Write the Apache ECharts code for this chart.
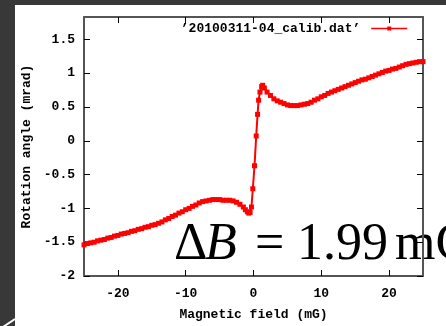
<!DOCTYPE html>
<html>
<head>
<meta charset="utf-8">
<script src="https://cdn.jsdelivr.net/npm/echarts@6/dist/echarts.min.js"></script>
<style>
html,body{margin:0;padding:0;background:#fff;}
#c{width:446px;height:326px;}
</style>
</head>
<body>
<div id="c"></div>
<script>
var seriesName = '\u201920100311-04_calib.dat\u2019';
var xTicks = [-20, -10, 0, 10, 20];
var yTicks = [-2, -1.5, -1, -0.5, 0, 0.5, 1, 1.5];
var field = [
 -25,-24.5,-24,-23.5,-23,-22.5,-22,-21.5,-21,-20.5,
 -20,-19.5,-19,-18.5,-18,-17.5,-17,-16.5,-16,-15.5,
 -15,-14.5,-14,-13.5,-13,-12.5,-12,-11.5,-11,-10.5,
 -10,-9.5,-9,-8.5,-8,-7.5,-7,-6.5,-6,-5.5,
 -5,-4.5,-4,-3.5,-3,-2.5,-2,-1.5,-1.2,-0.9,
 -0.7,-0.5,-0.3,-0.1,0.15,0.4,0.6,0.75,0.95,1.2,
 1.35,1.6,2,2.5,3,3.5,4,4.5,5,5.5,
 6,6.5,7,7.5,8,8.5,9,9.5,10,10.5,
 11,11.5,12,12.5,13,13.5,14,14.5,15,15.5,
 16,16.5,17,17.5,18,18.5,19,19.5,20,20.5,
 21,21.5,22,22.5,23,23.5,24,24.5,25
];
var angle = [
 -1.54,-1.52,-1.51,-1.50,-1.48,-1.47,-1.46,-1.44,-1.43,-1.41,
 -1.40,-1.38,-1.37,-1.36,-1.34,-1.33,-1.31,-1.30,-1.28,-1.27,
 -1.25,-1.24,-1.22,-1.20,-1.17,-1.15,-1.12,-1.10,-1.07,-1.05,
 -1.02,-1.00,-0.97,-0.95,-0.92,-0.90,-0.89,-0.88,-0.87,-0.87,
 -0.87,-0.88,-0.88,-0.88,-0.89,-0.91,-0.94,-0.98,-1.02,-1.05,
 -1.07,-1.06,-0.98,-0.71,-0.37,0.07,0.39,0.60,0.72,0.80,
 0.82,0.78,0.72,0.67,0.62,0.59,0.57,0.55,0.53,0.52,
 0.52,0.52,0.53,0.54,0.55,0.57,0.60,0.62,0.65,0.67,
 0.70,0.72,0.74,0.76,0.78,0.80,0.82,0.84,0.86,0.88,
 0.90,0.91,0.93,0.95,0.97,0.99,1.01,1.03,1.04,1.06,
 1.07,1.09,1.11,1.13,1.14,1.15,1.16,1.17,1.17
];
var annotation = ['\u0394', 'B', '=', '1.99', 'mG'];

var data = field.map(function (x, i) { return [x, angle[i]]; });
var monoFont = 'Liberation Mono';
var frame = {show: true, onZero: false, lineStyle: {color: '#555', width: 2}};
var tick = {show: true, inside: true, length: 6, lineStyle: {color: '#000', width: 1}};
var serifFont = '52px "Liberation Serif"';

var chart = echarts.init(document.getElementById('c'), null, {renderer: 'canvas'});
chart.setOption({
  backgroundColor: '#ffffff',
  animation: false,
  grid: {left: 84, right: 23, top: 17, bottom: 45, containLabel: false},
  legend: {
    data: [seriesName],
    right: 38, top: 22, padding: 0,
    align: 'right',
    itemWidth: 36, itemHeight: 5,
    lineStyle: {width: 1.5},
    textStyle: {fontFamily: monoFont, fontWeight: 'bold', fontSize: 13, color: '#000', padding: [0, 6, 0, 0]}
  },
  xAxis: [{
    type: 'value', min: -25, max: 25, position: 'bottom',
    name: 'Magnetic field (mG)', nameLocation: 'middle', nameGap: 32,
    nameTextStyle: {fontFamily: monoFont, fontWeight: 'bold', fontSize: 13, color: '#000'},
    axisLine: frame,
    axisTick: Object.assign({customValues: xTicks}, tick),
    axisLabel: {customValues: xTicks, margin: 11, fontFamily: monoFont, fontWeight: 'bold', fontSize: 13, color: '#000'},
    splitLine: {show: false}
  }, {
    type: 'value', min: -25, max: 25, position: 'top',
    axisLine: frame,
    axisTick: Object.assign({customValues: xTicks}, tick),
    axisLabel: {show: false},
    splitLine: {show: false}
  }],
  yAxis: [{
    type: 'value', min: -2, max: 1.83, position: 'left',
    name: 'Rotation angle (mrad)', nameLocation: 'middle', nameGap: 42,
    nameTextStyle: {fontFamily: monoFont, fontWeight: 'bold', fontSize: 13, color: '#000'},
    axisLine: frame,
    axisTick: Object.assign({customValues: yTicks}, tick),
    axisLabel: {customValues: yTicks, margin: 9, fontFamily: monoFont, fontWeight: 'bold', fontSize: 13, color: '#000'},
    splitLine: {show: false}
  }, {
    type: 'value', min: -2, max: 1.83, position: 'right',
    axisLine: frame,
    axisTick: Object.assign({customValues: yTicks}, tick),
    axisLabel: {show: false},
    splitLine: {show: false}
  }],
  series: [{
    name: seriesName,
    type: 'line',
    data: data,
    symbol: 'rect',
    symbolSize: 5,
    showSymbol: true,
    color: '#ff0000',
    lineStyle: {color: '#ff0000', width: 2},
    itemStyle: {color: '#ff0000'},
    z: 3
  }],
  graphic: [
    {type: 'rect', z: 100, shape: {x: 0, y: 0, width: 446, height: 5}, style: {fill: '#383838'}},
    {type: 'rect', z: 100, shape: {x: 0, y: 0, width: 15, height: 326}, style: {fill: '#383838'}},
    {type: 'line', z: 101, shape: {x1: 3, y1: 327, x2: 15, y2: 319}, style: {stroke: '#ffffff', lineWidth: 2}},
    {type: 'text', z: -1, x: 174, y: 245, style: {text: annotation[0], font: serifFont, fill: '#000', verticalAlign: 'middle'}},
    {type: 'text', z: -1, x: 205, y: 245, style: {text: annotation[1], font: 'italic ' + serifFont, fill: '#000', verticalAlign: 'middle'}},
    {type: 'text', z: -1, x: 255, y: 245, style: {text: annotation[2], font: serifFont, fill: '#000', verticalAlign: 'middle'}},
    {type: 'text', z: -1, x: 297, y: 245, style: {text: annotation[3], font: serifFont, fill: '#000', verticalAlign: 'middle'}},
    {type: 'text', z: -1, x: 395, y: 245, style: {text: annotation[4], font: serifFont, fill: '#000', verticalAlign: 'middle'}}
  ]
});
</script>
</body>
</html>
